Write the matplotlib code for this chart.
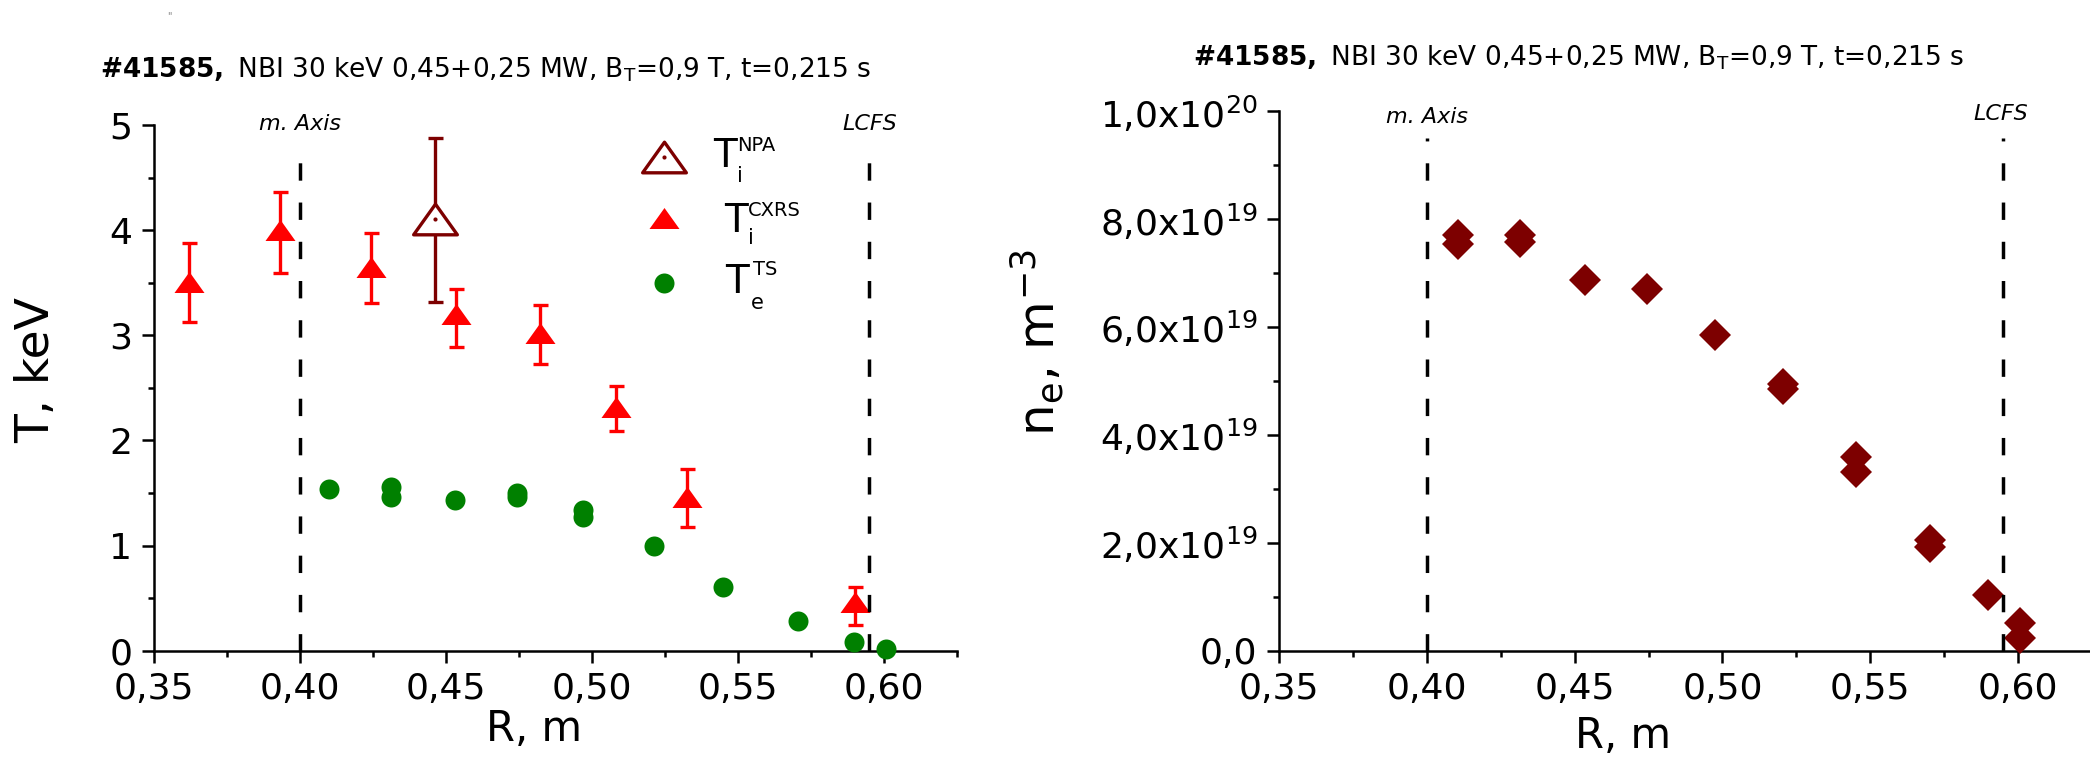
import matplotlib
matplotlib.use('Agg')
import matplotlib.pyplot as plt
from matplotlib.path import Path

plt.rcParams['font.family'] = ['DejaVu Sans']
plt.rcParams['mathtext.fontset'] = 'dejavusans'

# ---------------- data ----------------
# Left panel: ion temperature from CXRS (red filled triangles)
R_cxrs = [0.3622, 0.3931, 0.4242, 0.4533, 0.4823, 0.5083, 0.5325, 0.5900]
T_cxrs = [3.51, 4.00, 3.65, 3.20, 3.02, 2.32, 1.46, 0.466]
T_cxrs_hi = [3.88, 4.36, 3.97, 3.44, 3.29, 2.52, 1.73, 0.61]
T_cxrs_lo = [3.13, 3.59, 3.31, 2.89, 2.73, 2.09, 1.18, 0.244]

# Ion temperature from NPA (open wine triangle)
R_npa = [0.4463]
T_npa = [4.11]
T_npa_hi = [4.88]
T_npa_lo = [3.32]

# Electron temperature from Thomson scattering (green dots)
R_ts = [0.4100, 0.4312, 0.4312, 0.4531, 0.4743, 0.4743, 0.4971, 0.4971,
        0.5213, 0.5450, 0.5704, 0.5899, 0.6008]
T_ts = [1.54, 1.56, 1.46, 1.43, 1.50, 1.46, 1.34, 1.27,
        1.00, 0.61, 0.285, 0.086, 0.02]

# Right panel: electron density (wine diamonds)
R_ne = [0.4106, 0.4106, 0.4315, 0.4315, 0.4535, 0.4746, 0.4975, 0.5205, 0.5205,
        0.5451, 0.5451, 0.5702, 0.5702, 0.5899, 0.6007, 0.6007]
ne = [7.70e19, 7.54e19, 7.70e19, 7.58e19, 6.86e19, 6.71e19, 5.85e19, 4.94e19, 4.85e19,
      3.59e19, 3.31e19, 2.05e19, 1.93e19, 1.03e19, 0.51e19, 0.23e19]

# reference positions
R_axis = 0.400
R_lcfs = 0.595

# ticks
x_major = [0.35, 0.40, 0.45, 0.50, 0.55, 0.60]
x_minor = [0.375, 0.425, 0.475, 0.525, 0.575, 0.625]
x_labels = ['0,35', '0,40', '0,45', '0,50', '0,55', '0,60']
T_major = [0, 1, 2, 3, 4, 5]
T_minor = [0.5, 1.5, 2.5, 3.5, 4.5]
T_labels = ['0', '1', '2', '3', '4', '5']
ne_major = [0, 2e19, 4e19, 6e19, 8e19, 1e20]
ne_minor = [1e19, 3e19, 5e19, 7e19, 9e19]
ne_labels = ['0,0', r'2,0x10$^{19}$', r'4,0x10$^{19}$', r'6,0x10$^{19}$',
             r'8,0x10$^{19}$', r'1,0x10$^{20}$']

title_txt = (r'$\mathbf{\#41585,}$ NBI 30 keV 0,45+0,25 MW, B$_{\mathregular{T}}$=0,9 T, '
             r't=0,215 s')

# ---------------- styling ----------------
RED = '#ff0000'
WINE = '#7d0000'
GREEN = '#008000'
TRI = Path([(-1, -0.7), (1, -0.7), (0, 0.7), (-1, -0.7)],
           [Path.MOVETO, Path.LINETO, Path.LINETO, Path.CLOSEPOLY])

W, H = 2090, 761
fig = plt.figure(figsize=(W / 100, H / 100), dpi=100)

axL = fig.add_axes([153.8 / W, (H - 650.7) / H, (957 - 153.8) / W, (650.7 - 125) / H])
axR = fig.add_axes([1279 / W, (H - 650.7) / H, (2092 - 1279) / W, (650.7 - 111) / H])


def style_axis(ax):
    for s in ('top', 'right'):
        ax.spines[s].set_visible(False)
    for s in ('left', 'bottom'):
        ax.spines[s].set_linewidth(1.8)
    ax.tick_params(which='major', direction='out', length=8.6, width=1.8,
                   labelsize=26, color='black')
    ax.tick_params(which='minor', direction='out', length=4.2, width=1.8)
    ax.tick_params(axis='x', which='major', pad=6.5)
    ax.tick_params(axis='y', which='major', pad=7)
    ax.set_xlim(0.35, 0.625)
    ax.set_xticks(x_major, x_labels)
    ax.set_xticks(x_minor, minor=True)


style_axis(axL)
style_axis(axR)

# ---- left panel ----
axL.set_ylim(0, 5)
axL.set_yticks(T_major, T_labels)
axL.set_yticks(T_minor, minor=True)

yerr_c = [[t - l for t, l in zip(T_cxrs, T_cxrs_lo)],
          [h - t for t, h in zip(T_cxrs, T_cxrs_hi)]]
axL.errorbar(R_cxrs, T_cxrs, yerr=yerr_c, fmt='none', ecolor=RED, elinewidth=2.4,
             capsize=5.4, capthick=2.4, zorder=3, clip_on=False)
axL.plot(R_cxrs, T_cxrs, ls='none', marker=TRI, ms=21.6, mfc=RED, mec=RED, mew=0,
         zorder=4, clip_on=False)

yerr_n = [[t - l for t, l in zip(T_npa, T_npa_lo)],
          [h - t for t, h in zip(T_npa, T_npa_hi)]]
axL.errorbar(R_npa, T_npa, yerr=yerr_n, fmt='none', ecolor=WINE, elinewidth=2.4,
             capsize=5.4, capthick=2.4, zorder=3, clip_on=False)
axL.plot(R_npa, T_npa, ls='none', marker=TRI, ms=31.5, mfc='white', mec=WINE, mew=2.4,
         zorder=5, clip_on=False)
axL.plot(R_npa, T_npa, ls='none', marker='o', ms=3, mfc=WINE, mec=WINE, mew=0,
         zorder=6, clip_on=False)

axL.plot(R_ts, T_ts, ls='none', marker='o', ms=14.4, mfc=GREEN, mec=GREEN, mew=0,
         zorder=4, clip_on=False)

dash = (0, (5.0, 6.3))
axL.vlines([R_axis, R_lcfs], 0, 4.81, colors='black', linewidth=2.5, linestyles=dash,
           zorder=7)
axL.text(R_axis, 4.95, 'm. Axis', ha='center', va='baseline', style='italic',
         fontsize=16, clip_on=False)
axL.text(R_lcfs, 4.95, 'LCFS', ha='center', va='baseline', style='italic',
         fontsize=16, clip_on=False)

# legend (manual, in axes fraction)
leg_x = 0.635
axL.plot([leg_x], [0.9397], transform=axL.transAxes, marker=TRI, ms=31.5, mfc='white',
         mec=WINE, mew=2.4, ls='none', clip_on=False)
axL.plot([leg_x], [0.9397], transform=axL.transAxes, marker='o', ms=3, mfc=WINE,
         mec=WINE, mew=0, ls='none', clip_on=False)
axL.plot([leg_x], [0.8231], transform=axL.transAxes, marker=TRI, ms=21.6, mfc=RED,
         mec=RED, mew=0, ls='none', clip_on=False)
axL.plot([leg_x], [0.6994], transform=axL.transAxes, marker='o', ms=14.4, mfc=GREEN,
         mec=GREEN, mew=0, ls='none', clip_on=False)
for (tx, ty, sx, sy, sup, bx, by, sub) in [
        (0.6962, 0.941, 0.7261, 0.9601, 'NPA', 0.7261, 0.9021, 'i'),
        (0.7099, 0.817, 0.7398, 0.8383, 'CXRS', 0.7398, 0.7841, 'i'),
        (0.7111, 0.701, 0.7460, 0.7242, 'TS', 0.7437, 0.6623, 'e')]:
    axL.text(tx, ty, 'T', transform=axL.transAxes, fontsize=28, ha='left', va='center')
    axL.text(sx, sy, sup, transform=axL.transAxes, fontsize=14, ha='left', va='center')
    axL.text(bx, by, sub, transform=axL.transAxes, fontsize=15, ha='left', va='center')

# ---- right panel ----
axR.set_ylim(0, 1e20)
axR.set_yticks(ne_major, ne_labels)
axR.set_yticks(ne_minor, minor=True)
axR.plot(R_ne, ne, ls='none', marker='D', ms=16.8, mfc=WINE, mec=WINE, mew=0,
         zorder=4, clip_on=False)
axR.vlines([R_axis, R_lcfs], 0, 9.5e19, colors='black', linewidth=2.5, linestyles=dash,
           zorder=7)
axR.text(R_axis, 9.77e19, 'm. Axis', ha='center', va='baseline', style='italic',
         fontsize=16, clip_on=False)
axR.text(0.594, 9.84e19, 'LCFS', ha='center', va='baseline', style='italic',
         fontsize=16, clip_on=False)

# ---- titles and axis labels ----
fig.text(486 / W, 1 - 78 / H, title_txt, ha='center', va='baseline', fontsize=19)
fig.text(1579 / W, 1 - 65 / H, title_txt, ha='center', va='baseline', fontsize=19)
fig.text(169 / W, 1 - 16 / H, '"', ha='center', va='center', fontsize=7, color='#777777')

fig.text(534 / W, 1 - 729 / H, 'R, m', ha='center', va='center', fontsize=30)
fig.text(1623 / W, 1 - 736 / H, 'R, m', ha='center', va='center', fontsize=30)
fig.text(36.5 / W, 1 - 370 / H, 'T, keV', ha='center', va='center', fontsize=34,
         rotation=90)
fig.text(1066 / W, 1 - 343 / H, r'n$_{\mathregular{e}}$, m$^{\mathregular{-3}}$',
         ha='right', va='center', fontsize=36, rotation=90)

fig.savefig('out.png', dpi=100)
